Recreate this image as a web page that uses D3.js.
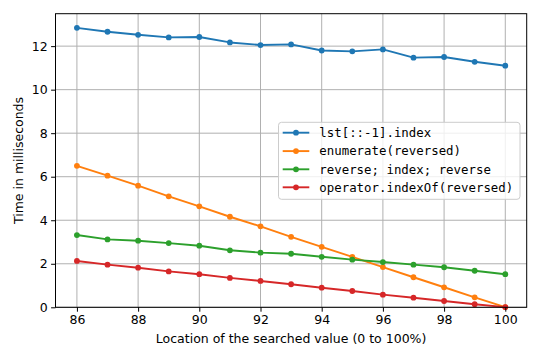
<!DOCTYPE html>
<html><head><meta charset="utf-8">
<script src="https://cdn.jsdelivr.net/npm/d3@7"></script>
<style>body{margin:0;background:#fff}</style>
</head><body>
<script>
const xValues = [86,87,88,89,90,91,92,93,94,95,96,97,98,99,100];
const seriesNames = ["lst[::-1].index","enumerate(reversed)","reverse; index; reverse","operator.indexOf(reversed)"];
const lstSlice = [12.84,12.66,12.52,12.40,12.42,12.17,12.05,12.08,11.80,11.76,11.85,11.47,11.50,11.28,11.10];
const enumerateRev = [6.50,6.05,5.59,5.10,4.64,4.16,3.72,3.24,2.78,2.32,1.85,1.38,0.92,0.46,0.01];
const reverseIndex = [3.32,3.12,3.06,2.95,2.83,2.62,2.51,2.46,2.32,2.19,2.08,1.96,1.84,1.68,1.52];
const operatorIndexOf = [2.13,1.96,1.82,1.65,1.52,1.35,1.21,1.06,0.90,0.75,0.58,0.44,0.29,0.14,0.01];
const xTicks = [86,88,90,92,94,96,98,100];
const yTicks = [0,2,4,6,8,10,12];
const colors = ["#1f77b4","#ff7f0e","#2ca02c","#d62728"];
const allSeries = [lstSlice, enumerateRev, reverseIndex, operatorIndexOf];

const W=540,H=360;
const L=55.5,R=526.7,T=13.7,B=307.3;
const svg=d3.select("body").append("svg").attr("width",W).attr("height",H);
const x=d3.scaleLinear().domain([85.3,100.7]).range([L,R]);
const y=d3.scaleLinear().domain([0,13.49]).range([B,T]);
const font="DejaVu Sans";

// grid
svg.append("g").selectAll("line").data(xTicks).join("line")
  .attr("x1",d=>x(d)).attr("x2",d=>x(d)).attr("y1",T).attr("y2",B)
  .attr("stroke","#b0b0b0").attr("stroke-width",1);
svg.append("g").selectAll("line").data(yTicks).join("line")
  .attr("y1",d=>y(d)).attr("y2",d=>y(d)).attr("x1",L).attr("x2",R)
  .attr("stroke","#b0b0b0").attr("stroke-width",1);

// lines
const line=d3.line().x((d,i)=>x(xValues[i])).y(d=>y(d));
allSeries.forEach((s,k)=>{
  svg.append("path").datum(s).attr("d",line).attr("fill","none")
    .attr("stroke",colors[k]).attr("stroke-width",1.9).attr("stroke-linejoin","round");
  svg.append("g").selectAll("circle").data(s).join("circle")
    .attr("cx",(d,i)=>x(xValues[i])).attr("cy",d=>y(d)).attr("r",2.9).attr("fill",colors[k]);
});

// axes
const xAxis=d3.axisBottom(x).tickValues(xTicks).tickSize(4.4).tickPadding(3.5).tickFormat(d3.format("d"));
const gx=svg.append("g").attr("transform",`translate(0,${B})`).call(xAxis);
const yAxis=d3.axisLeft(y).tickValues(yTicks).tickSize(4.4).tickPadding(3.5).tickFormat(d3.format("d"));
const gy=svg.append("g").attr("transform",`translate(${L},0)`).call(yAxis);
[gx,gy].forEach(g=>{
  g.select(".domain").remove();
  g.selectAll("line").attr("stroke","#000").attr("stroke-width",1);
  g.selectAll("text").attr("font-family",font).attr("font-size",12.5).attr("fill","#000");
});

// spines
svg.append("rect").attr("x",L).attr("y",T).attr("width",R-L).attr("height",B-T)
  .attr("fill","none").attr("stroke","#000").attr("stroke-width",1);

// labels
svg.append("text").attr("x",(L+R)/2).attr("y",343).attr("text-anchor","middle")
  .attr("font-family",font).attr("font-size",12.5).text("Location of the searched value (0 to 100%)");
svg.append("text").attr("transform",`translate(23,${(T+B)/2}) rotate(-90)`).attr("text-anchor","middle")
  .attr("font-family",font).attr("font-size",12.5).text("Time in milliseconds");

// legend
const lg=svg.append("g");
lg.append("rect").attr("x",278.5).attr("y",122.3).attr("width",241.5).attr("height",77)
  .attr("rx",3).attr("fill","#fff").attr("fill-opacity",0.8).attr("stroke","#cccccc").attr("stroke-width",1);
const ly=[132.7,151.1,169.3,187.3];
seriesNames.forEach((n,k)=>{
  lg.append("line").attr("x1",282.7).attr("x2",309.3).attr("y1",ly[k]).attr("y2",ly[k])
    .attr("stroke",colors[k]).attr("stroke-width",1.9);
  lg.append("circle").attr("cx",296).attr("cy",ly[k]).attr("r",2.9).attr("fill",colors[k]);
  lg.append("text").attr("x",319.3).attr("y",ly[k]).attr("dy","0.35em")
    .attr("font-family","DejaVu Sans Mono").attr("font-size",12.4).text(n);
});
</script>
</body></html>
